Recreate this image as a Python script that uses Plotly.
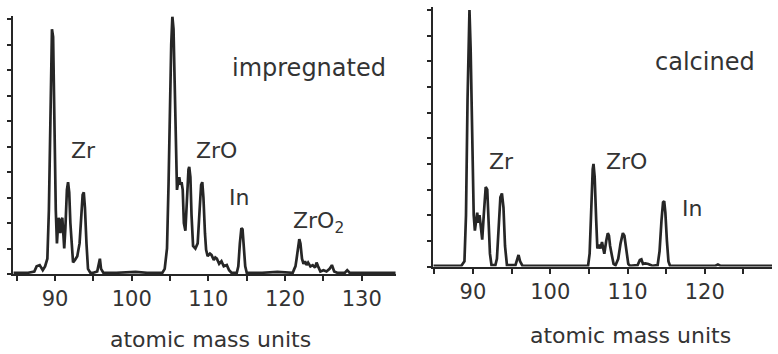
import plotly.graph_objects as go

# ---- data ----
imp_amu = [84.6, 86.5, 87.3, 87.6, 88.0, 88.4, 88.7, 89.0, 89.2, 89.4, 89.6, 89.75, 89.9, 90.1,
           90.25, 90.35, 90.45, 90.6, 90.7, 90.8, 90.95, 91.1, 91.2, 91.35, 91.55, 91.7, 91.85,
           92.0, 92.2, 92.35, 92.6, 92.9, 93.2, 93.4, 93.6, 93.75, 93.9, 94.1, 94.3, 94.6, 95.0,
           95.5, 95.7, 95.85, 96.0, 96.3, 98.0, 100.5, 102.0, 104.0,
           104.3, 104.6, 104.8, 105.0, 105.15, 105.3, 105.45, 105.6, 105.8, 105.9, 106.05, 106.2,
           106.35, 106.5, 106.65, 106.8, 107.0, 107.2, 107.4, 107.5, 107.65, 107.8, 108.0, 108.3,
           108.6, 108.85, 109.05, 109.2, 109.35, 109.55, 109.7, 109.9, 110.2, 110.4, 110.7, 110.9,
           111.1, 111.4, 111.7, 112.0, 112.4, 112.7, 113.0, 113.7, 113.9, 114.1, 114.3, 114.45,
           114.6, 114.8, 115.0, 117.0, 119.0, 121.0,
           121.2, 121.35, 121.5, 121.7, 121.85, 122.0, 122.2, 122.4, 122.6, 122.8, 123.0, 123.3,
           123.6, 123.9, 124.1, 124.3, 124.6, 125.0, 125.4, 125.8, 126.1, 126.4, 126.8, 127.8,
           128.1, 128.4, 130.0, 132.0, 134.4]
imp_int = [0.05, 0.05, 0.1, 0.3, 0.35, 0.15, 0.3, 0.6, 2.5, 7.0, 9.6, 9.3, 6.0, 2.5,
           1.2, 1.8, 2.2, 2.0, 1.6, 2.1, 2.2, 1.5, 1.0, 1.8, 3.3, 3.6, 3.2,
           2.0, 0.8, 0.45, 0.55, 0.7, 1.2, 2.2, 3.1, 3.2, 2.6, 1.2, 0.2, 0.05, 0.05,
           0.1, 0.45, 0.6, 0.2, 0.05, 0.05, 0.08, 0.05, 0.05,
           0.2, 1.0, 3.5, 7.0, 9.0, 10.1, 9.6, 7.5, 4.5, 3.3, 3.6, 3.8,
           3.5, 3.6, 3.3, 2.0, 1.7, 3.0, 4.1, 4.2, 3.8, 2.3, 1.1, 1.0,
           1.2, 2.5, 3.5, 3.6, 3.0, 1.6, 0.95, 0.7, 0.8, 0.75, 0.55, 0.65,
           0.6, 0.4, 0.5, 0.3, 0.35, 0.15, 0.05, 0.05, 0.3, 1.2, 1.8, 1.75,
           1.0, 0.3, 0.05, 0.05, 0.08, 0.05,
           0.2, 0.3, 0.6, 1.1, 1.37, 1.2, 0.6, 0.4, 0.5, 0.35, 0.45, 0.3,
           0.35, 0.25, 0.45, 0.3, 0.1, 0.15, 0.1, 0.2, 0.35, 0.1, 0.05, 0.05,
           0.15, 0.05, 0.05, 0.05, 0.05]

cal_amu = [84.9, 88.5, 88.9, 89.1, 89.3, 89.45, 89.55, 89.7, 89.9, 90.1, 90.25, 90.4, 90.55,
           90.7, 90.85, 91.0, 91.2, 91.4, 91.65, 91.85, 92.0, 92.2, 92.4, 92.9, 93.1, 93.3,
           93.55, 93.75, 93.95, 94.15, 94.4, 95.5, 95.75, 95.9, 96.1, 96.4, 100.0, 104.9,
           105.1, 105.3, 105.5, 105.6, 105.75, 105.95, 106.1, 106.3, 106.5, 106.7, 106.85, 107.0,
           107.25, 107.45, 107.6, 107.75, 108.0, 108.2, 108.45, 108.8, 109.1, 109.4, 109.6,
           109.85, 110.1, 110.3, 111.3, 111.6, 111.8, 112.0, 112.3, 112.7, 113.2, 113.9, 114.15,
           114.4, 114.6, 114.75, 114.9, 115.1, 115.3, 115.5, 121.4, 121.7, 122.0, 128.7]
cal_int = [0.03, 0.03, 0.2, 2.0, 6.5, 9.6, 10.0, 8.5, 5.0, 2.0, 1.4, 1.9, 2.1,
           1.7, 2.0, 1.6, 1.05, 2.0, 3.1, 3.0, 1.8, 0.5, 0.05, 0.05, 0.3, 1.5,
           2.7, 2.85, 2.3, 0.8, 0.05, 0.05, 0.35, 0.45, 0.2, 0.03, 0.03, 0.03,
           0.5, 2.5, 3.8, 4.0, 3.5, 1.8, 0.7, 0.85, 0.7, 0.95, 0.7, 0.5,
           1.0, 1.3, 1.2, 0.8, 0.4, 0.1, 0.05, 0.3, 0.9, 1.3, 1.2,
           0.7, 0.1, 0.03, 0.05, 0.25, 0.28, 0.1, 0.12, 0.1, 0.03, 0.05, 0.6,
           1.8, 2.5, 2.55, 2.1, 1.0, 0.2, 0.03, 0.03, 0.08, 0.03, 0.03]

imp_ticks = [85, 90, 95, 100, 105, 110, 115, 120, 125, 130]
imp_ticktext = ["", "90", "", "100", "", "110", "", "120", "", "130"]
cal_ticks = [85, 90, 95, 100, 105, 110, 115, 120, 125]
cal_ticktext = ["", "90", "", "100", "", "110", "", "120", ""]
y_ticks = [0, 1, 2, 3, 4, 5, 6, 7, 8, 9, 10]
x_title = "atomic mass units"
panel_labels = ["impregnated", "calcined"]

# ---- figure ----
W, H = 778, 354
INK = "#262626"
TXT = "#333333"
FONT = "DejaVu Sans"

def fx(px):
    return px / W

def fy(py):
    return 1 - py / H

fig = go.Figure()
fig.add_trace(go.Scatter(x=imp_amu, y=imp_int, mode="lines", xaxis="x", yaxis="y",
                         line=dict(color=INK, width=2.7), showlegend=False, hoverinfo="skip"))
fig.add_trace(go.Scatter(x=cal_amu, y=cal_int, mode="lines", xaxis="x2", yaxis="y2",
                         line=dict(color=INK, width=2.7), showlegend=False, hoverinfo="skip"))

xcommon = dict(showgrid=False, zeroline=False, showline=True, linecolor=INK, linewidth=2.2,
               ticks="outside", ticklen=5, tickwidth=1.6, tickcolor=INK,
               tickfont=dict(family=FONT, size=21, color=TXT), tickmode="array")
ycommon = dict(showgrid=False, zeroline=False, showline=True, linecolor=INK, linewidth=2,
               ticks="outside", ticklen=4, tickwidth=1.6, tickcolor=INK,
               tickmode="array", tickvals=y_ticks, showticklabels=False, range=[0, 10.1])

# left panel: baseline py 274, 25.5 px / unit
yl_top = 274 - 10.1 * 25.5
# right panel: baseline py 266.5, 25.65 px / unit
yr_top = 266.5 - 10.1 * 25.65

fig.update_layout(
    width=W, height=H, margin=dict(l=0, r=0, t=0, b=0),
    paper_bgcolor="white", plot_bgcolor="white",
    xaxis=dict(xcommon, domain=[fx(13), fx(396)], range=[84.52, 134.46],
               tickvals=imp_ticks, ticktext=imp_ticktext, anchor="y"),
    yaxis=dict(ycommon, domain=[fy(274), fy(yl_top)], anchor="x"),
    xaxis2=dict(xcommon, domain=[fx(433), fx(772)], range=[84.83, 128.7],
                tickvals=cal_ticks, ticktext=cal_ticktext, anchor="y2"),
    yaxis2=dict(ycommon, domain=[fy(266.5), fy(yr_top)], anchor="x2"),
)

def label(text, px, py, size):
    fig.add_annotation(text=text, x=fx(px), y=fy(py), xref="paper", yref="paper",
                       xanchor="center", yanchor="middle", showarrow=False,
                       font=dict(family=FONT, size=size, color=TXT))

label(panel_labels[0], 309, 68, 24)
label(panel_labels[1], 705, 62, 24)
label("Zr", 83, 150, 22)
label("ZrO", 217, 150, 22)
label("In", 239, 197, 22)
label("ZrO<sub>2</sub>", 318, 222, 22)
label("Zr", 501, 161, 22)
label("ZrO", 626, 161, 22)
label("In", 692, 208, 22)
label(x_title, 210, 339, 22)
label(x_title, 630, 335, 22)

fig.write_html("out.html")
